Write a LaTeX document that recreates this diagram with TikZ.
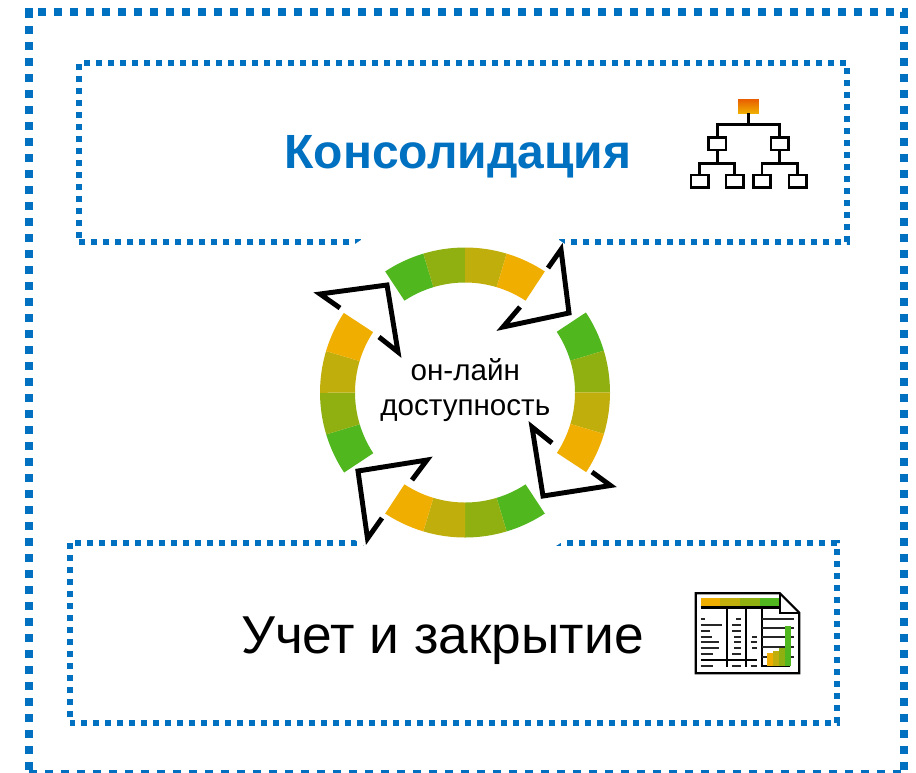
\documentclass[tikz,border=0pt]{standalone}
\usepackage{fontspec}
\setmainfont{Liberation Sans}
\definecolor{framecol}{HTML}{0070C0}
\definecolor{segA}{HTML}{50B81E}
\definecolor{segB}{HTML}{90B012}
\definecolor{segC}{HTML}{C0AE0C}
\definecolor{segD}{HTML}{F0AE00}
\definecolor{topcol}{HTML}{E85E00}
\tikzset{
  bigframe/.style={draw=framecol,line width=6pt,dash pattern=on 6pt off 6pt},
  smallframe/.style={draw=framecol,line width=4.5pt,dash pattern=on 4.5pt off 4.5pt},
  cyclearrow/.style={draw=black,line width=3.7pt,miter limit=10},
  orgbox/.style={draw=black,line width=2pt,fill=white,minimum width=13pt,minimum height=9.5pt,inner sep=0pt},
  orgline/.style={draw=black,line width=2pt},
  sheetline/.style={draw=black,line width=1.6pt},
  sheetbar/.style={draw=black!85,line width=1.4pt}
}
\begin{document}
\begin{tikzpicture}[x=0.75pt,y=-0.75pt]
  \useasboundingbox (0,0) rectangle (916,772);
  \fill[white] (0,0) rectangle (916,772);

  % frames
  \begin{scope}
    \clip (0,0) rectangle (916,772);
    \draw[bigframe,dash phase=5.25pt] (29,12) -- (904.3,12) -- (904.3,774) -- (29,774);
    \draw[bigframe,dash phase=9pt] (29,774) -- (29,12);
    \fill[framecol] (25,8) rectangle (33,18);
  \end{scope}
  \draw[smallframe,dash phase=5.25pt] (79.3,63) -- (847.3,63) -- (847.3,242) -- (79.3,242);
  \draw[smallframe,dash phase=5.8pt] (79.3,242) -- (79.3,63);
  \draw[smallframe,dash phase=4.8pt] (69.7,543) -- (837.3,543) -- (837.3,722.7) -- (69.7,722.7);
  \draw[smallframe,dash phase=4.5pt] (69.7,722.7) -- (69.7,543);
  \fill[white] (460,392) circle (136pt);

  % ring
  \foreach \base in {123.4,33.5,-56.6,213.5} {
    \foreach \i/\col in {0/segA,1/segB,2/segC,3/segD} {
      \pgfmathsetmacro{\angA}{\base-\i*16.7}
      \pgfmathsetmacro{\angB}{\base-(\i+1)*16.7}
      \fill[\col] ({465+145*cos(\angA)},{392.5-145*sin(\angA)})
        arc[start angle=\angA,end angle=\angB,x radius=145,y radius=-145]
        -- ({465+110*cos(\angB)},{392.5-110*sin(\angB)})
        arc[start angle=\angB,end angle=\angA,x radius=110,y radius=-110] -- cycle;
    }
  }

  % arrows
  \draw[cyclearrow] (548,268) -- (561,249.5) -- (569,313) -- (503,327) -- (520,307);
  \draw[cyclearrow] (340,308) -- (320,294) -- (387,285) -- (398,352) -- (379,337);
  \draw[cyclearrow] (412,480) -- (427,460) -- (358,471) -- (367.5,538.5) -- (382,518);
  \draw[cyclearrow] (592,472) -- (610.5,485.5) -- (543,496) -- (532,427) -- (552,443);

  % texts
  \node[text=framecol,font=\bfseries\fontsize{36}{40}\selectfont] (title) at (458,157) {Консолидация};
  \node[font=\fontsize{40}{44}\selectfont] (closing) at (442.5,641) {Учет и закрытие};
  \node[font=\fontsize{22.2}{26.2}\selectfont,align=center] (online) at (465.3,390) {он-лайн\\доступность};

  % org chart
  \node[minimum width=15.5pt,minimum height=10.5pt,inner sep=0pt,top color=topcol,bottom color=segD] (root) at (748.5,106) {};
  \node[orgbox] (midL) at (717.3,143.5) {};
  \node[orgbox] (midR) at (779.8,143.5) {};
  \node[orgbox] (leafA) at (699.5,181.3) {};
  \node[orgbox] (leafB) at (734.8,181.3) {};
  \node[orgbox] (leafC) at (762,181.3) {};
  \node[orgbox] (leafD) at (797.5,181.3) {};
  \draw[orgline] (root.south) -- ++(0,11) -| (midL.north);
  \draw[orgline] (root.south) -- ++(0,11) -| (midR.north);
  \draw[orgline] (midL.south) -- ++(0,12) -| (leafA.north);
  \draw[orgline] (midL.south) -- ++(0,12) -| (leafB.north);
  \draw[orgline] (midR.south) -- ++(0,12) -| (leafC.north);
  \draw[orgline] (midR.south) -- ++(0,12) -| (leafD.north);

  % sheet
  \fill[segD] (700.7,598.3) rectangle (720.4,606.7);
  \fill[segC] (720.4,598.3) rectangle (740.1,606.7);
  \fill[segB] (740.1,598.3) rectangle (759.8,606.7);
  \fill[segA] (759.8,598.3) rectangle (779.5,606.7);
  \draw[sheetline] (695.7,593.3) -- (780,593.3) -- (799.3,612.7) -- (799.3,673.3) -- (695.7,673.3) -- cycle;
  \draw[sheetline] (780,593.3) -- (780,612.7) -- (799.3,612.7);
  \draw[sheetline] (700.7,607.5) -- (780,607.5);
  \foreach \x in {726.7,745.7,761.7} {
    \draw[sheetline] (\x,607.5) -- (\x,667);
  }
  \draw[sheetline] (700.7,660) -- (756.7,660);
  \foreach \y/\xa/\xb in {619/700.7/705,624.7/700.7/722.3,630.7/700.7/710,636.7/700.7/712.3,642.3/700.7/719.3,648.3/700.7/719.3,654.3/700.7/713.3,666.3/700.7/713.3,
      619/736/740.7,624.7/732.3/740.7,630.7/732.3/740.7,636.7/734/740.7,642.3/734/740.7,648.3/734/740.7,654.3/732.3/740.7,666.3/732.3/740.7,
      636.7/752.3/757.3,642.3/750.7/757.3,648.3/752.3/757.3,666.3/750.7/757.3} {
    \draw[sheetbar] (\xa,\y) -- (\xb,\y);
  }
  \foreach \y in {619,628.3,637.3,647.3,657.3} {
    \draw[sheetbar] (761.7,\y) -- (794.3,\y);
  }
  \draw[sheetline] (761.7,666) -- (790,666);
  \fill[segD] (767.3,652.7) rectangle (773.3,666);
  \fill[segC] (773.3,650.7) rectangle (779,666);
  \fill[segB] (779,647.7) rectangle (785,666);
  \fill[segA] (785,625.7) rectangle (790.7,666);
\end{tikzpicture}
\end{document}
